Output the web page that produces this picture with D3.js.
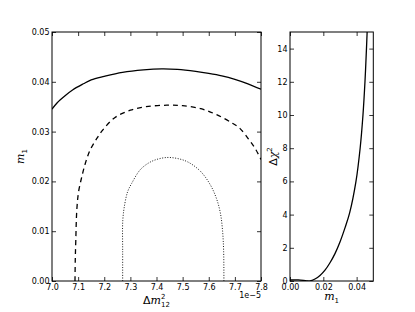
<!DOCTYPE html>
<html><head><meta charset="utf-8">
<script src="https://cdn.jsdelivr.net/npm/d3@7/dist/d3.min.js"></script>
<style>body{margin:0;background:#fff}svg{display:block}</style>
</head><body>
<script>
// ---- data ----
const solidDm = [7.0,7.02,7.05,7.08,7.12,7.15,7.2,7.27,7.35,7.42,7.48,7.55,7.6,7.65,7.7,7.75,7.8];
const solidM1 = [0.0345,0.0358,0.0372,0.0384,0.0396,0.0404,0.0411,0.0419,0.0424,0.0426,0.0425,0.0421,0.0417,0.0412,0.0405,0.0396,0.0385];
const dashDm = [7.088,7.089,7.091,7.095,7.102,7.114,7.128,7.146,7.17,7.194,7.24,7.30,7.36,7.44,7.50,7.57,7.63,7.69,7.72,7.758,7.78,7.8];
const dashM1 = [0.0,0.004,0.008,0.0143,0.018,0.0209,0.0237,0.0263,0.0285,0.0303,0.0328,0.0343,0.0350,0.0353,0.0352,0.0346,0.0334,0.0317,0.0306,0.0281,0.0264,0.0244];
const dotDm = [7.2705,7.2705,7.271,7.279,7.29,7.305,7.337,7.37,7.40,7.44,7.48,7.52,7.567,7.605,7.63,7.645,7.653,7.657,7.658];
const dotM1 = [0.0,0.006,0.0122,0.0156,0.018,0.0196,0.0223,0.0237,0.0244,0.0248,0.0246,0.0239,0.0221,0.0194,0.0165,0.0135,0.010,0.006,0.0];
const chiM1 = [0.0,0.005,0.010,0.012,0.015,0.018,0.021,0.024,0.027,0.030,0.033,0.0358,0.0396,0.0421,0.0438,0.0450,0.0459,0.0463];
const chiVal = [0.06,0.07,0.01,0.0,0.12,0.33,0.65,1.1,1.65,2.35,3.2,4.1,6.0,8.0,10.0,12.0,14.0,15.0];
const leftXTicks = [7.0,7.1,7.2,7.3,7.4,7.5,7.6,7.7,7.8];
const leftYTicks = [0.00,0.01,0.02,0.03,0.04,0.05];
const rightXTicks = [0.00,0.02,0.04];
const rightYTicks = [0,2,4,6,8,10,12,14];

const W=415,H=312;
const svg=d3.select("body").append("svg").attr("width",W).attr("height",H);
const tickFont = "DejaVu Sans, sans-serif";

function panel(x0,x1,y0,y1,xd,yd,xt,yt,xfmt,yfmt){
  const x=d3.scaleLinear().domain(xd).range([x0,x1]);
  const y=d3.scaleLinear().domain(yd).range([y1,y0]);
  const g=svg.append("g");
  const tl=4;
  const mk=(axis,tr,ticks,fmt,pad)=>{
    const a=g.append("g").attr("transform",tr).call(axis.tickValues(ticks).tickSizeInner(-tl).tickSizeOuter(0).tickFormat(fmt).tickPadding(pad));
    a.select(".domain").remove();
    a.selectAll("line").attr("stroke","#000").attr("stroke-width",0.8);
    a.selectAll("text").attr("font-family",tickFont).attr("font-size",8).attr("fill","#000");
    return a;
  };
  mk(d3.axisBottom(x),`translate(0,${y1})`,xt,xfmt,3);
  mk(d3.axisTop(x),`translate(0,${y0})`,xt,()=>"",3).selectAll("text").remove();
  mk(d3.axisLeft(y),`translate(${x0},0)`,yt,yfmt,2.5);
  mk(d3.axisRight(y),`translate(${x1},0)`,yt,()=>"",3).selectAll("text").remove();
  g.append("rect").attr("x",x0).attr("y",y0).attr("width",x1-x0).attr("height",y1-y0)
    .attr("fill","none").attr("stroke","#000").attr("stroke-width",1);
  return {x,y,g};
}

const L=panel(52,261,32,281,[7.0,7.8],[0,0.05],leftXTicks,leftYTicks,d3.format(".1f"),d3.format(".2f"));
const R=panel(290,373.3,32,281,[0,0.05],[0,15],rightXTicks,rightYTicks,d3.format(".2f"),d3.format("d"));

svg.append("clipPath").attr("id","cl").append("rect").attr("x",52).attr("y",32).attr("width",209).attr("height",249);
svg.append("clipPath").attr("id","cr").append("rect").attr("x",290).attr("y",32).attr("width",83.3).attr("height",249);

function draw(P,xs,ys,dash,lw,clip){
  const pts=xs.map((v,i)=>[v,ys[i]]);
  const line=d3.line().x(d=>P.x(d[0])).y(d=>P.y(d[1])).curve(d3.curveCatmullRom.alpha(0.5));
  svg.append("path").attr("d",line(pts)).attr("fill","none").attr("stroke","#000")
    .attr("stroke-width",lw).attr("stroke-dasharray",dash).attr("clip-path",`url(#${clip})`);
}
draw(L,solidDm,solidM1,null,1.3,"cl");
draw(L,dashDm,dashM1,"5,4",1.3,"cl");
draw(L,dotDm,dotM1,"1,1.6",0.9,"cl");
draw(R,chiM1,chiVal,null,1.3,"cr");

// labels
const serif="DejaVu Serif, serif";
function mathLabel(sel,parts){
  parts.forEach(p=>{
    const ts=sel.append("tspan").text(p.t);
    if(p.it) ts.attr("font-style","italic");
    if(p.size) ts.attr("font-size",p.size);
    if(p.dy!==undefined) ts.attr("dy",p.dy);
    if(p.dx!==undefined) ts.attr("dx",p.dx);
    if(p.fam) ts.attr("font-family",p.fam);
  });
}
const xl=svg.append("text").attr("x",156.5).attr("y",303.5).attr("text-anchor","middle")
  .attr("font-family",serif).attr("font-size",11);
mathLabel(xl,[{t:"Δ",fam:"DejaVu Sans, sans-serif"},{t:"m",it:true},{t:"2",size:7,dy:-5,fam:"DejaVu Sans"},{t:"12",size:7,dy:8,dx:-4.4,fam:"DejaVu Sans"}]);
svg.append("text").attr("x",261).attr("y",298).attr("text-anchor","end")
  .attr("font-family",tickFont).attr("font-size",8).text("1e\u22125");
const yl=svg.append("text").attr("transform","translate(23.5,156.5) rotate(-90)").attr("text-anchor","middle")
  .attr("font-family",serif).attr("font-size",11);
mathLabel(yl,[{t:"m",it:true},{t:"1",size:7,dy:3,fam:"DejaVu Sans"}]);
const rx=svg.append("text").attr("x",331.6).attr("y",300).attr("text-anchor","middle")
  .attr("font-family",serif).attr("font-size",11);
mathLabel(rx,[{t:"m",it:true},{t:"1",size:7,dy:3,fam:"DejaVu Sans"}]);
const ry=svg.append("text").attr("transform","translate(277,156.5) rotate(-90)").attr("text-anchor","middle")
  .attr("font-family",serif).attr("font-size",11);
mathLabel(ry,[{t:"Δ",fam:"DejaVu Sans, sans-serif"},{t:"χ",it:true},{t:"2",size:7,dy:-5,fam:"DejaVu Sans"}]);
</script>
</body></html>
